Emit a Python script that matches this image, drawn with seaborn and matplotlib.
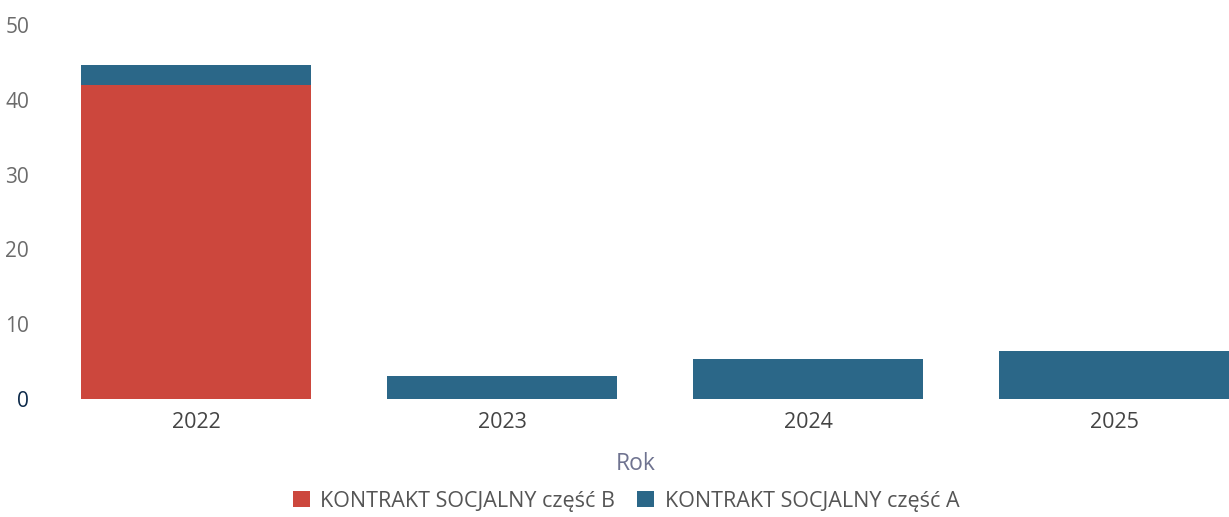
import matplotlib
matplotlib.use("Agg")
import matplotlib.pyplot as plt
import seaborn as sns
import pandas as pd
from matplotlib.patches import Patch

years = ["2022", "2023", "2024", "2025"]
part_b = [42.0, 0.0, 0.0, 0.0]
part_a = [2.6, 3.1, 5.3, 6.4]
series_names = ["KONTRAKT SOCJALNY część B", "KONTRAKT SOCJALNY część A"]
yticks = [0, 10, 20, 30, 40, 50]

RED = "#cc473d"
BLUE = "#2b6788"

sns.set_theme(style="white")
plt.rcParams['font.family'] = ['Open Sans', 'DejaVu Sans']

df = pd.DataFrame({"Rok": years, "B": part_b, "A": part_a})
df["total"] = df["A"] + df["B"]

W, H = 1229, 517
fig = plt.figure(figsize=(W / 100, H / 100), dpi=100)
left_px, right_px = 43, 1229
bottom_px, top_px = 399, 25
ax = fig.add_axes([left_px / W, (H - bottom_px) / H, (right_px - left_px) / W, (bottom_px - top_px) / H])

sns.barplot(data=df, x="Rok", y="total", color=BLUE, saturation=1, width=0.75, linewidth=0, ax=ax)
sns.barplot(data=df, x="Rok", y="B", color=RED, saturation=1, width=0.75, linewidth=0, ax=ax)

ax.set_xlim(-0.5, (right_px - 196) / 306)
ax.set_ylim(0, 50)
ax.set_yticks(yticks)
ax.set_yticklabels([str(v) for v in yticks])
for lbl in ax.get_yticklabels():
    lbl.set_color("#0d2a4a" if lbl.get_text() == "0" else "#6b6b6b")
ax.tick_params(axis="y", labelsize=15, length=0, pad=10)
ax.tick_params(axis="x", labelsize=15.5, length=0, pad=9, labelcolor="#444444")
for s in ax.spines.values():
    s.set_visible(False)
ax.grid(False)
ax.set_ylabel("")
ax.set_xlabel("Rok", fontsize=16.5, color="#6f7390", labelpad=14)

handles = [Patch(facecolor=RED, edgecolor="none"), Patch(facecolor=BLUE, edgecolor="none")]
fig.legend(handles, series_names, loc="center", bbox_to_anchor=(626 / W, 1 - 501 / H),
           ncol=2, frameon=False, fontsize=15.5, handlelength=0.8, handleheight=0.8,
           handletextpad=0.5, columnspacing=1.0, labelcolor="#555555")

fig.savefig("out.png", dpi=100)
